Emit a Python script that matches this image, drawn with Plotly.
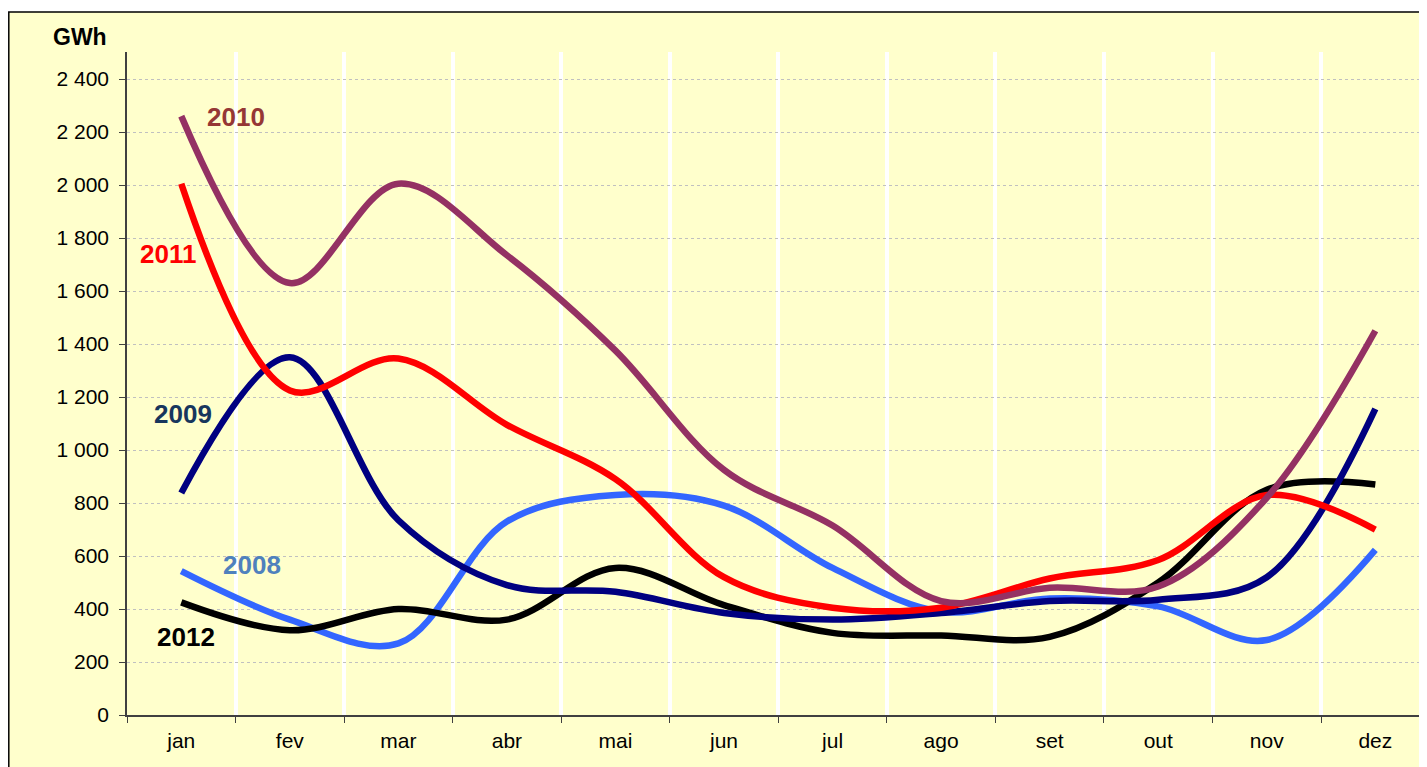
import plotly.graph_objects as go

months = ["jan", "fev", "mar", "abr", "mai", "jun", "jul", "ago", "set", "out", "nov", "dez"]
y2008 = [543, 360, 270, 730, 830, 790, 555, 390, 440, 410, 283, 623]
y2009 = [838, 1350, 735, 490, 465, 385, 360, 385, 430, 435, 520, 1155]
y2010 = [2260, 1630, 2005, 1735, 1375, 925, 715, 430, 480, 485, 820, 1450]
y2011 = [2005, 1225, 1345, 1095, 890, 520, 405, 405, 515, 585, 830, 700]
y2012 = [425, 320, 400, 360, 555, 415, 310, 300, 295, 500, 850, 870]

series = [
    ("2008", y2008, "#3366FF", "#4F81BD", 0.65, 566),
    ("2012", y2012, "#000000", "#000000", 0.04, 294),
    ("2009", y2009, "#000080", "#17365D", 0.02, 1136),
    ("2011", y2011, "#FF0000", "#FF0000", -0.12, 1740),
    ("2010", y2010, "#943163", "#953735", 0.5, 2257),
]

FONT = "Arial, Liberation Sans, sans-serif"
bg = "#FFFFCC"
fig = go.Figure()
annotations = []
for name, vals, color, lcolor, ax, ay in series:
    fig.add_trace(go.Scatter(
        x=months, y=vals, mode="lines", name=name,
        line=dict(color=color, width=6.5, shape="spline", smoothing=1.0),
        hoverinfo="x+y+name",
    ))
    annotations.append(dict(
        x=ax, y=ay, xref="x", yref="y", text=f"<b>{name}</b>", showarrow=False,
        font=dict(family=FONT, size=26, color=lcolor),
    ))

annotations.append(dict(
    x=-0.036, y=1.023, xref="paper", yref="paper", text="<b>GWh</b>", showarrow=False,
    xanchor="center", yanchor="middle",
    font=dict(family=FONT, size=23, color="#000000"),
))

# page body has an 8px margin; plot area is placed so it lands at x 127..1427, y 52..715
fig.update_layout(
    width=1419, height=759,
    margin=dict(l=119, r=0, t=44, b=52),
    paper_bgcolor="#FFFFFF",
    plot_bgcolor=bg,
    showlegend=False,
    separators=", ",
    font=dict(family=FONT, size=21, color="#000000"),
    annotations=annotations,
    shapes=[dict(
        type="rect", xref="paper", yref="paper",
        x0=(0.8 - 119) / 1300, x1=1.05, y0=-0.2, y1=(707 - 4) / 663,
        fillcolor=bg, line=dict(color="#000000", width=1.5), layer="below",
    )],
)
fig.update_xaxes(
    type="category", range=[-0.5, 11.476],
    tickson="boundaries", ticks="outside", ticklen=6, tickcolor="#404040",
    showgrid=True, gridcolor="#FFFFFF", gridwidth=4,
    showline=True, linecolor="#404040", linewidth=1.5,
    tickfont=dict(size=21), zeroline=False, ticklabelstandoff=6,
)
fig.update_yaxes(
    range=[0, 2502], tickmode="linear", tick0=0, dtick=200,
    tickformat=",d", ticks="outside", ticklen=6, tickcolor="#404040",
    showgrid=True, gridcolor="#C0C0C0", gridwidth=1, griddash="dot",
    showline=True, linecolor="#404040", linewidth=1.5,
    zeroline=False, tickfont=dict(size=21), ticklabelstandoff=6,
)

fig.write_html("out.html")
